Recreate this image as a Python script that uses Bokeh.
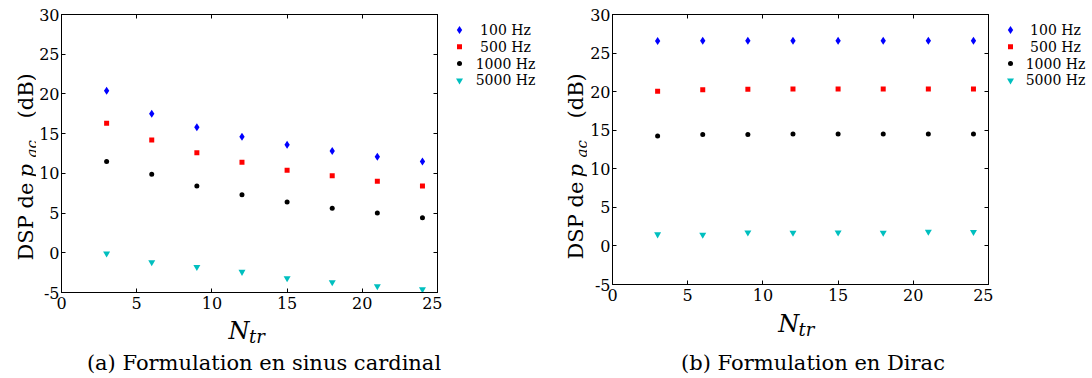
from bokeh.plotting import figure
from bokeh.models import Range1d, FixedTicker, LinearAxis
from bokeh.layouts import row, column
from bokeh.core.properties import value
from bokeh.embed import file_html
from bokeh.resources import INLINE

# ---------------- data ----------------
n_tr = [3, 6, 9, 12, 15, 18, 21, 24]

sinc_100 = [20.4, 17.5, 15.8, 14.6, 13.6, 12.8, 12.1, 11.5]
sinc_500 = [16.3, 14.2, 12.6, 11.4, 10.4, 9.7, 9.0, 8.4]
sinc_1000 = [11.5, 9.9, 8.4, 7.3, 6.4, 5.6, 5.0, 4.4]
sinc_5000 = [-0.1, -1.2, -1.8, -2.4, -3.2, -3.7, -4.2, -4.6]

dirac_100 = [26.55, 26.6, 26.6, 26.6, 26.6, 26.6, 26.6, 26.6]
dirac_500 = [20.05, 20.25, 20.3, 20.35, 20.35, 20.35, 20.35, 20.35]
dirac_1000 = [14.25, 14.45, 14.45, 14.5, 14.5, 14.5, 14.5, 14.5]
dirac_5000 = [1.5, 1.45, 1.75, 1.7, 1.75, 1.7, 1.85, 1.8]

freq_labels = ["100 Hz", "500 Hz", "1000 Hz", "5000 Hz"]
x_ticks = [0, 5, 10, 15, 20, 25]
y_ticks = [-5, 0, 5, 10, 15, 20, 25, 30]
captions = ["(a) Formulation en sinus cardinal", "(b) Formulation en Dirac"]

# ---------------- styles ----------------
FONT = "DejaVu Serif"
colors = ["#0000ff", "#ff0000", "#000000", "#00bfbf"]
markers = ["diamond", "square", "circle", "inverted_triangle"]
msizes = [8, 5, 5, 7]
BASE_SHIFT = 0.26   # em; compensates where the alphabetic baseline is drawn


def strip(w, h, top=0, bottom=0):
    """A blank figure; its frame (w x h) gives pixel coordinates for texts."""
    s = figure(frame_width=w, frame_height=h, x_range=Range1d(0, w),
               y_range=Range1d(0, h), x_axis_type=None, y_axis_type=None,
               output_backend="svg", toolbar_location=None, min_border=0,
               min_border_top=top, min_border_bottom=bottom,
               background_fill_color="white", border_fill_color="white")
    s.title = None
    s.outline_line_color = None
    s.grid.visible = False
    return s


def txt(s, text, x, y, size, style="normal", angle=0, align="left",
        baseline="alphabetic"):
    if baseline == "alphabetic":
        if angle == 90:
            x = x - BASE_SHIFT * size
        else:
            y = y + BASE_SHIFT * size
    s.text(x=[x], y=[y], text=[text], angle=angle, angle_units="deg",
           text_font=value(FONT), text_font_size=value(f"{size}px"),
           text_font_style=style, text_align=align,
           text_baseline=baseline, text_color="black")


def style_axis(ax, ticks, labels_visible=True, standoff=3):
    ax.ticker = FixedTicker(ticks=ticks)
    ax.major_tick_in = 4
    ax.major_tick_out = 0
    ax.minor_tick_line_color = None
    ax.axis_line_color = "black"
    ax.axis_line_width = 1
    ax.major_tick_line_color = "black"
    if labels_visible:
        ax.major_label_text_font = FONT
        ax.major_label_text_font_size = "16px"
        ax.major_label_text_color = "black"
        ax.major_label_standoff = standoff
    else:
        ax.major_label_text_color = None
        ax.major_label_text_font_size = "1px"
        ax.major_label_standoff = 0


def make_panel(series, width, height, b_left, b_right, b_top, b_bottom):
    p = figure(width=width, height=height, x_range=Range1d(0, 25),
               y_range=Range1d(-5, 30), output_backend="svg",
               toolbar_location=None, min_border_left=b_left,
               min_border_right=b_right, min_border_top=b_top,
               min_border_bottom=b_bottom, background_fill_color="white",
               border_fill_color="white")
    p.grid.visible = False
    p.outline_line_color = "black"
    p.outline_line_width = 1

    style_axis(p.xaxis[0], x_ticks, True, 4)
    style_axis(p.yaxis[0], y_ticks, True, 2)
    p.yaxis[0].major_label_overrides = {-5: "-5"}
    top_ax = LinearAxis()
    style_axis(top_ax, x_ticks, False)
    p.add_layout(top_ax, "above")
    right_ax = LinearAxis()
    style_axis(right_ax, y_ticks, False)
    p.add_layout(right_ax, "right")

    for vals, c, m, s in zip(series, colors, markers, msizes):
        p.scatter(n_tr, vals, marker=m, size=s, fill_color=c, line_color=None)
    return p


def legend_strip(w, fh, top, bottom, gx, tx, row0, row_step):
    """Legend keys and labels; row0 is measured from the frame top."""
    g = strip(w, fh, top, bottom)
    for i, (lab, c, m, s) in enumerate(zip(freq_labels, colors, markers, msizes)):
        yy = fh - (row0 + row_step * i)
        g.scatter(x=[gx], y=[yy], marker=m, size=s, fill_color=c, line_color=None)
        txt(g, lab, tx, yy, 14, align="center", baseline="middle")
    return g


def ylabel_strip(w, fh, top, bottom, xb, xsub, y_dsp, y_p, y_ac, y_db):
    s = strip(w, fh, top, bottom)
    txt(s, "DSP de", xb, y_dsp, 21, angle=90)
    txt(s, "p", xb, y_p, 21, style="italic", angle=90)
    txt(s, "ac", xsub, y_ac, 15, style="italic", angle=90)
    txt(s, "(dB)", xb, y_db, 21, angle=90)
    return s


def bottom_strip(w, h, xn, yn, xt, yt, caption, cx, cy):
    s = strip(w, h)
    txt(s, "N", xn, yn, 24, style="italic")
    txt(s, "tr", xt, yt, 18, style="italic")
    txt(s, caption, cx, cy, 21, align="center")
    return s


# left panel: frame at x 59..437, y 14..292
L1 = ylabel_strip(36, 278, 14, 26, 30.7, 35.5, 32, 115, 135, 174)
p1 = make_panel([sinc_100, sinc_500, sinc_1000, sinc_5000], 406, 318, 23, 5, 14, 26)
G1 = legend_strip(106, 278, 14, 26, 17, 63, 15.5, 16.8)
B1 = bottom_strip(548, 58, 228, 39.3, 248.5, 35, captions[0], 263.5, 8)

# right panel: frame at x 610..988, y 14..284
L2 = ylabel_strip(39, 270, 14, 24, 33.2, 37.5, 25, 107, 127, 166)
p2 = make_panel([dirac_100, dirac_500, dirac_1000, dirac_5000], 406, 308, 23, 5, 14, 24)
G2 = legend_strip(97, 270, 14, 24, 17, 62, 15.5, 16.8)
B2 = bottom_strip(542, 68, 229.7, 46.2, 250, 42.2, captions[1], 264.5, 8)

layout = row(column(row(L1, p1, G1), B1), column(row(L2, p2, G2), B2))
open("out.html", "w").write(file_html(layout, INLINE))
